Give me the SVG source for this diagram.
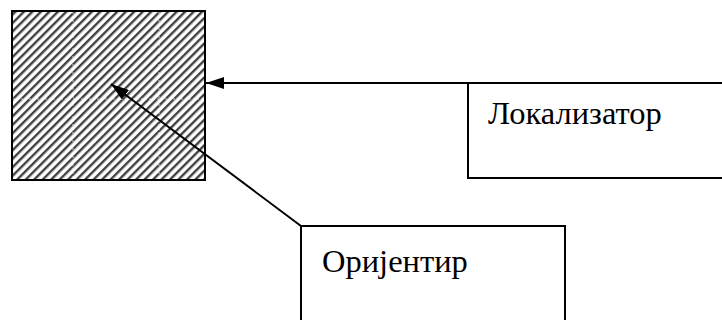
<svg xmlns="http://www.w3.org/2000/svg" width="722" height="320" viewBox="0 0 722 320">
<style>
.box{fill:none;stroke:#000;stroke-width:2}
.lbl{font-family:"Liberation Serif","Times New Roman",serif;font-size:32.5px;fill:#000}
.conn{stroke:#000;stroke-width:2;fill:none}
.grid{stroke:#fff;stroke-width:1;stroke-dasharray:2 2;opacity:0.7}
</style>
<defs>
<pattern id="hatch" patternUnits="userSpaceOnUse" width="6" height="6" patternTransform="rotate(45)">
<rect width="6" height="6" fill="#fff"/>
<rect x="0" y="0" width="2.4" height="6" fill="#404040"/>
</pattern>
<marker id="arr" viewBox="0 0 18 12" refX="18" refY="6" markerWidth="18" markerHeight="12" markerUnits="userSpaceOnUse" orient="auto">
<path d="M0,0 L18,6 L0,12 Z" fill="#000"/>
</marker>
</defs>
<g id="target">
<rect x="12" y="11" width="193" height="169" fill="url(#hatch)"/>
<line class="grid" x1="73" y1="12" x2="73" y2="179"/>
<line class="grid" x1="159" y1="12" x2="159" y2="179"/>
<line class="grid" x1="13" y1="99" x2="204" y2="99"/>
<rect class="box" x="12" y="11" width="193" height="169"/>
</g>
<g id="localizator">
<path class="box" d="M723,83 H468 V178 H723"/>
<text class="lbl" x="488" y="124">Локализатор</text>
</g>
<g id="orijentir">
<path class="box" d="M301,321 V226 H565 V321"/>
<text class="lbl" x="322" y="272">Оријентир</text>
</g>
<g id="connectors">
<line class="conn" x1="468" y1="83" x2="206" y2="83" marker-end="url(#arr)"/>
<line class="conn" x1="301" y1="226" x2="111" y2="84" marker-end="url(#arr)"/>
</g>
</svg>
